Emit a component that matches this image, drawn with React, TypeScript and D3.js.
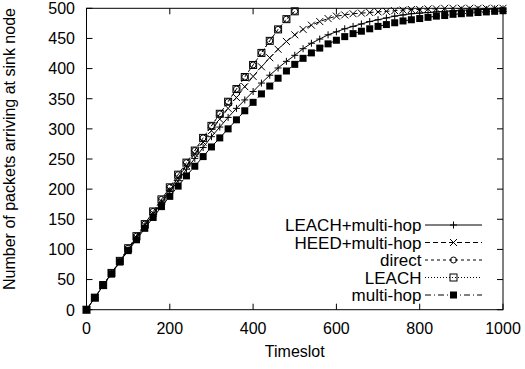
import React from "react";
import * as d3 from "d3";

const timeslots = [0,20,40,60,80,100,120,140,160,180,200,220,240,260,280,300,320,340,360,380,400,420,440,460,480,500,520,540,560,580,600,620,640,660,680,700,720,740,760,780,800,820,840,860,880,900,920,940,960,980,1000];

const leachMultiHop = [0,20,40,60,80,99,119,139,158,177,196,214,233,251,269,287,303,319,334,348,362,376,389,401,412,422,433,442,449,456,461,466,470,474,478,481,484,487,489,491,492,493,494,495,496,497,497,498,498,499,499];
const heedMultiHop = [0,20,40,60,80,100,120,140,160,180,199,219,239,259,278,297,316,334,352,370,387,403,418,432,445,456,465,472,478,483,487,489,491,492,493,494,495,496,497,498,498,499,499,500,500,500,500,500,500,500,500];
const direct = [0,20,41,61,81,102,122,142,163,183,203,224,244,264,285,305,325,345,366,386,406,426,446,465,482,495];
const leach = [0,20,41,61,81,102,122,142,163,183,203,224,244,264,285,305,325,345,366,386,406,426,446,465,482,495];
const multiHop = [0,20,40,59,79,98,116,135,153,171,188,205,222,238,254,270,285,300,315,330,344,358,371,384,396,407,417,426,434,441,447,453,458,462,466,470,473,476,479,481,483,485,487,488,490,491,492,493,494,495,496];

const seriesNames = ["LEACH+multi-hop", "HEED+multi-hop", "direct", "LEACH", "multi-hop"];
const xTicks = [0, 200, 400, 600, 800, 1000];
const yTicks = [0, 50, 100, 150, 200, 250, 300, 350, 400, 450, 500];

const W = 525, H = 369;
const L = 86.5, R = 503, T = 8.3, B = 309.7;
const FONT = "'Liberation Sans', Arial, Helvetica, sans-serif";

type Marker = "plus" | "cross" | "circle" | "square" | "fsquare";

function MarkerShape({ kind, x, y }: { kind: Marker; x: number; y: number }) {
  const s = 3.5;
  if (kind === "plus")
    return <path d={`M${x - s},${y}H${x + s}M${x},${y - s}V${y + s}`} stroke="#000" strokeWidth={1} fill="none" />;
  if (kind === "cross")
    return <path d={`M${x - s},${y - s}L${x + s},${y + s}M${x - s},${y + s}L${x + s},${y - s}`} stroke="#000" strokeWidth={1} fill="none" />;
  if (kind === "circle")
    return <circle cx={x} cy={y} r={3} stroke="#000" strokeWidth={1} fill="none" />;
  if (kind === "square")
    return <rect x={x - s} y={y - s} width={2 * s} height={2 * s} stroke="#000" strokeWidth={1} fill="none" />;
  return <rect x={x - s} y={y - s} width={2 * s} height={2 * s} fill="#000" />;
}

export default function App() {
  const x = d3.scaleLinear().domain([0, 1000]).range([L, R]);
  const y = d3.scaleLinear().domain([0, 500]).range([B, T]);

  const series = [
    { name: seriesNames[0], values: leachMultiHop, marker: "plus" as Marker, dash: "none" },
    { name: seriesNames[1], values: heedMultiHop, marker: "cross" as Marker, dash: "5,3" },
    { name: seriesNames[2], values: direct, marker: "circle" as Marker, dash: "3,3" },
    { name: seriesNames[3], values: leach, marker: "square" as Marker, dash: "1,2" },
    { name: seriesNames[4], values: multiHop, marker: "fsquare" as Marker, dash: "6,3,1,3" },
  ];

  const line = d3.line<[number, number]>().x((d) => x(d[0])).y((d) => y(d[1]));

  const legendX = 421.5;
  const legendY0 = 225;
  const legendDy = 17.5;

  return (
    <svg width={W} height={H} style={{ position: "absolute", left: 0, top: 0, background: "#fff" }} fontFamily={FONT}>
      <defs>
        <clipPath id="plotclip">
          <rect x={L} y={T} width={R - L} height={B - T} />
        </clipPath>
      </defs>
      <rect x={0} y={0} width={W} height={H} fill="#fff" />
      {xTicks.map((t) => (
        <g key={"xt" + t}>
          <line x1={x(t)} x2={x(t)} y1={B} y2={B - 6} stroke="#000" />
          <line x1={x(t)} x2={x(t)} y1={T} y2={T + 6} stroke="#000" />
          <text x={x(t)} y={333.5} fontSize={16} textAnchor="middle">{t}</text>
        </g>
      ))}
      {yTicks.map((t) => (
        <g key={"yt" + t}>
          <line x1={L} x2={L + 6} y1={y(t)} y2={y(t)} stroke="#000" />
          <line x1={R} x2={R - 6} y1={y(t)} y2={y(t)} stroke="#000" />
          <text x={75} y={y(t) + 5.8} fontSize={16} textAnchor="end">{t}</text>
        </g>
      ))}
      <text x={(L + R) / 2} y={357} fontSize={16} textAnchor="middle">Timeslot</text>
      <text transform={`translate(15,149) rotate(-90)`} fontSize={16} textAnchor="middle">Number of packets arriving at sink node</text>

      {series.map((s, i) => {
        const pts = s.values.map((v, j) => [timeslots[j], v] as [number, number]);
        return (
          <g key={"s" + i}>
            <path d={line(pts) || ""} fill="none" stroke="#000" strokeWidth={1} strokeDasharray={s.dash} clipPath="url(#plotclip)" />
            {pts.map((p, j) => (
              <MarkerShape key={j} kind={s.marker} x={x(p[0])} y={y(p[1])} />
            ))}
          </g>
        );
      })}

      {series.map((s, i) => {
        const cy = legendY0 + i * legendDy;
        return (
          <g key={"lg" + i}>
            <text x={legendX} y={cy + 6} fontSize={17} textAnchor="end">{s.name}</text>
            <line x1={425} x2={482} y1={cy} y2={cy} stroke="#000" strokeWidth={1} strokeDasharray={s.dash} />
            <MarkerShape kind={s.marker} x={453.5} y={cy} />
          </g>
        );
      })}

      <rect x={L} y={T} width={R - L} height={B - T} fill="none" stroke="#000" strokeWidth={1} />
    </svg>
  );
}
